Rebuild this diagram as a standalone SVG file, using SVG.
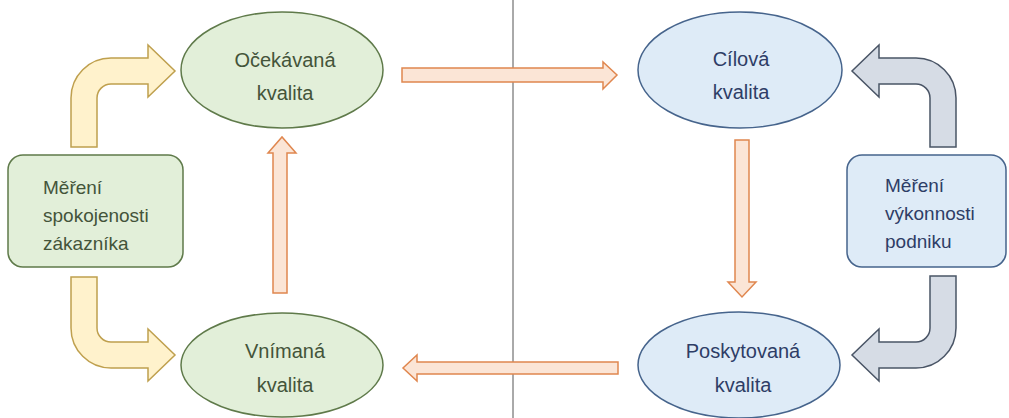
<svg xmlns="http://www.w3.org/2000/svg" width="1009" height="418" viewBox="0 0 1009 418">
<style>
.g{fill:#e2efd9;stroke:#5f7a4a;stroke-width:1.5}
.b{fill:#deebf7;stroke:#46648c;stroke-width:1.5}
.tg{font-family:"Liberation Sans",Arial,sans-serif;fill:#44543a}
.tb{font-family:"Liberation Sans",Arial,sans-serif;fill:#2e3d66}
.e{font-size:20px;text-anchor:middle}
.r{font-size:19px}
.y{fill:#fff2cc;stroke:#bfa04e;stroke-width:1.5;stroke-linejoin:miter}
.gr{fill:#d6dce5;stroke:#4a5566;stroke-width:1.5}
.o{fill:#fbe5d6;stroke:#e0874f;stroke-width:1.5}
</style>
<rect width="1009" height="418" fill="#ffffff"/>
<line x1="513" y1="0" x2="513" y2="418" stroke="#555555" stroke-width="1"/>
<g id="connectors">
<path class="y" d="M71,147 L71,98 A40,40 0 0 1 111,58 L148,58 L148,45 L175,71 L148,97 L148,84 L111,84 A14,14 0 0 0 97,98 L97,147 Z"/>
<path class="y" d="M71,277 L71,328 A40,40 0 0 0 111,368 L148,368 L148,381 L175,355 L148,329 L148,342 L111,342 A14,14 0 0 1 97,328 L97,277 Z"/>
<path class="gr" d="M956,147 L956,98 A40,40 0 0 0 916,58 L879,58 L879,45 L852,71 L879,97 L879,84 L916,84 A14,14 0 0 1 930,98 L930,147 Z"/>
<path class="gr" d="M956,276 L956,328 A40,40 0 0 1 916,368 L879,368 L879,381 L852,355 L879,329 L879,342 L916,342 A14,14 0 0 0 930,328 L930,276 Z"/>
<path class="o" d="M402,68 L603,68 L603,62 L617,75 L603,89 L603,82 L402,82 Z"/>
<path class="o" d="M618,362 L417,362 L417,355 L403,368 L417,381 L417,374 L618,374 Z"/>
<path class="o" d="M273,293 L273,153 L268,153 L282,137 L296,153 L287,153 L287,293 Z"/>
<path class="o" d="M735,140 L735,282 L728,282 L742,297 L756,282 L749,282 L749,140 Z"/>
</g>
<g id="ocekavana">
<ellipse class="g" cx="282" cy="70" rx="101" ry="58"/>
<text class="tg e" x="285" y="67">Očekávaná</text>
<text class="tg e" x="285" y="100">kvalita</text>
</g>
<g id="vnimana">
<ellipse class="g" cx="282" cy="365" rx="101" ry="52"/>
<text class="tg e" x="285" y="358">Vnímaná</text>
<text class="tg e" x="285" y="392">kvalita</text>
</g>
<g id="cilova">
<ellipse class="b" cx="740" cy="70" rx="102" ry="58"/>
<text class="tb e" x="741" y="66">Cílová</text>
<text class="tb e" x="741" y="99">kvalita</text>
</g>
<g id="poskytovana">
<ellipse class="b" cx="739" cy="365" rx="101" ry="53"/>
<text class="tb e" x="743" y="358">Poskytovaná</text>
<text class="tb e" x="743" y="392">kvalita</text>
</g>
<g id="mereni-spokojenosti">
<rect class="g" x="8" y="155" width="175" height="112" rx="15"/>
<text class="tg r" x="43" y="194">Měření</text>
<text class="tg r" x="43" y="222">spokojenosti</text>
<text class="tg r" x="43" y="250">zákazníka</text>
</g>
<g id="mereni-vykonnosti">
<rect class="b" x="847" y="155" width="159" height="112" rx="15"/>
<text class="tb r" x="885" y="192">Měření</text>
<text class="tb r" x="885" y="220">výkonnosti</text>
<text class="tb r" x="885" y="248">podniku</text>
</g>
</svg>
